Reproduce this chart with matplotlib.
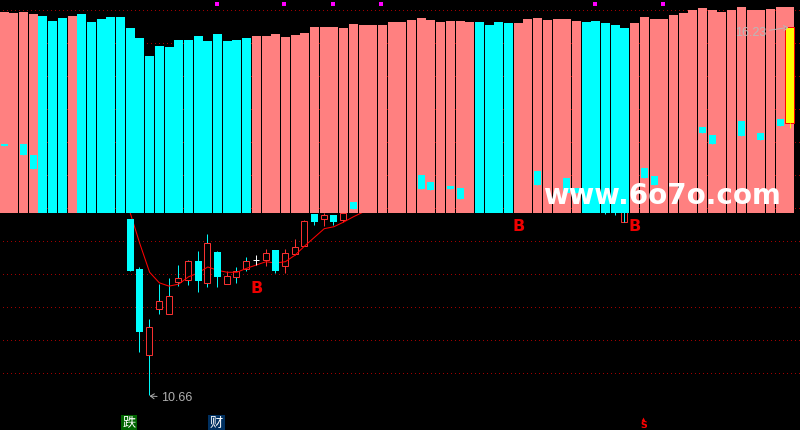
import matplotlib
matplotlib.use("Agg")
import matplotlib.pyplot as plt

plt.rcParams["lines.scale_dashes"] = False

CYAN = "#00ffff"
PINK = "#ff8080"
RED = "#ff3232"
LW = 0.7

# upper indicator, one value per bar
ind_values = [201, 200, 201, 199, 197, 192, 195, 197, 199, 191, 194, 196, 196, 185, 175, 157, 167, 166, 173, 173,
              177, 172, 179, 172, 173, 175, 177, 177, 179, 176, 178, 180, 186, 186, 186, 185, 189, 188, 188, 188,
              191, 191, 193, 195, 193, 191, 192, 192, 191, 191, 188, 191, 190, 190, 194, 195, 193, 194, 194, 192,
              191, 192, 190, 188, 185, 190, 196, 194, 194, 198, 200, 203, 205, 203, 201, 203, 206, 203, 203, 204,
              206, 206]
ind_up = [1, 1, 1, 1, 0, 0, 0, 1, 0, 0, 0, 0, 0, 0, 0, 0, 0, 0, 0, 0,
          0, 0, 0, 0, 0, 0, 1, 1, 1, 1, 1, 1, 1, 1, 1, 1, 1, 1, 1, 1,
          1, 1, 1, 1, 1, 1, 1, 1, 1, 0, 0, 0, 0, 1, 1, 1, 1, 1, 1, 1,
          0, 0, 0, 0, 0, 1, 1, 1, 1, 1, 1, 1, 1, 1, 1, 1, 1, 1, 1, 1,
          1, 1]

# red candles: index, open, close, high, low
up_idx = [15, 16, 17, 18, 19, 21, 23, 24, 25, 27, 29, 30, 31, 33, 35, 64]
up_open = [11.27, 11.96, 11.89, 12.37, 12.40, 12.36, 12.34, 12.45, 12.57, 12.71, 12.62, 12.80, 12.92, 13.33, 13.31, 13.28]
up_close = [11.69, 12.08, 12.16, 12.43, 12.69, 12.96, 12.46, 12.54, 12.69, 12.81, 12.81, 12.90, 13.30, 13.39, 13.42, 13.54]
up_high = [11.81, 12.34, 12.43, 12.63, 12.71, 13.10, 12.54, 12.60, 12.75, 12.87, 12.87, 13.02, 13.31, 13.42, 13.42, 13.54]
up_low = [10.66, 11.89, 11.89, 12.31, 12.33, 12.30, 12.34, 12.36, 12.54, 12.62, 12.51, 12.78, 12.92, 13.22, 13.28, 13.28]
up_wick = [CYAN, CYAN, CYAN, CYAN, CYAN, CYAN, RED, CYAN, CYAN, RED, RED, RED, RED, RED, RED, CYAN]

# cyan candles
down_idx = [0, 2, 3, 13, 14, 20, 22, 28, 32, 34, 36, 43, 44, 46, 47, 55, 58, 59, 62, 63, 66, 67, 72, 73, 76, 78, 80]
down_open = [14.46, 14.46, 14.30, 13.33, 12.57, 12.69, 12.83, 12.86, 13.40, 13.39, 13.58, 13.99, 13.89, 13.83, 13.80,
             14.05, 13.95, 13.80, 13.60, 13.60, 14.10, 13.98, 14.72, 14.60, 14.81, 14.63, 14.84]
down_close = [14.43, 14.30, 14.08, 12.54, 11.62, 12.39, 12.45, 12.54, 13.28, 13.28, 13.48, 13.78, 13.77, 13.78, 13.63,
              13.84, 13.72, 13.72, 13.50, 13.50, 13.95, 13.84, 14.63, 14.46, 14.58, 14.52, 14.74]
down_high = [14.46, 14.46, 14.30, 13.33, 12.60, 12.84, 12.84, 12.86, 13.40, 13.39, 13.58, 13.99, 13.89, 13.83, 13.80,
             14.05, 13.95, 13.80, 13.60, 13.60, 14.10, 13.98, 14.72, 14.60, 14.81, 14.63, 14.84]
down_low = [14.43, 14.30, 14.08, 12.54, 11.31, 12.22, 12.30, 12.51, 13.24, 13.24, 13.48, 13.78, 13.77, 13.78, 13.63,
            13.84, 13.72, 13.72, 13.40, 13.39, 13.95, 13.84, 14.63, 14.46, 14.58, 14.52, 14.74]

ma_idx = list(range(13, 38))
ma_values = [13.42, 12.95, 12.52, 12.36, 12.31, 12.34, 12.45, 12.51, 12.60, 12.55, 12.52, 12.52, 12.58,
             12.63, 12.68, 12.66, 12.68, 12.78, 12.92, 13.05, 13.18, 13.21, 13.28, 13.36, 13.43]

grid_prices = [16.5, 16.0, 15.5, 15.0, 14.5, 14.0, 13.5, 13.0, 12.5, 12.0, 11.5, 11.0]
signal_idx = [22, 29, 34, 39, 61, 68]
b_idx = [26, 53, 65]
b_prices = [12.27, 13.22, 13.22]

# 9.7px per bar
XLIM = (-4.11 / 9.7, 795.89 / 9.7)
YLIM = (10.13, 16.645)
SHIFT = 0.05  # stroked marks snap half a pixel to the right otherwise

fig = plt.figure(figsize=(8, 4.3), dpi=100, facecolor="black")


def new_layer(ylim):
    ax = fig.add_axes([0, 0, 1, 1], facecolor="none")
    ax.set_xlim(XLIM)
    ax.set_ylim(ylim)
    ax.set_xticks([])
    ax.set_yticks([])
    for s in ax.spines.values():
        s.set_visible(False)
    return ax


# bottom layer: grid, red candles, ma
ax = new_layer(YLIM)
ax.set_facecolor("black")
ax.set_yticks(grid_prices)
ax.tick_params(length=0, labelleft=False)
ax.grid(axis="y", color="#a00000", linewidth=LW, linestyle=(0.72, (0.72, 2.16)), antialiased=False)
ax.set_axisbelow(True)
up_x = [i - SHIFT for i in up_idx]
ax.vlines(up_x, up_low, up_high, colors=up_wick, linewidth=LW)
ax.bar(up_x, [c - o for o, c in zip(up_open, up_close)], bottom=up_open, width=6 / 9.7,
       facecolor="black", edgecolor=RED, linewidth=LW, zorder=3)
ax.vlines([64 - SHIFT], [13.28], [13.54], colors=CYAN, linewidth=LW, zorder=4)
ax.plot(ma_idx, ma_values, color="#ff0000", linewidth=0.75, zorder=5)

# indicator bars, baseline sits at y=213px
ax_ind = new_layer((-217, 213))
ind_colors = [PINK if u else CYAN for u in ind_up]
ax_ind.bar(range(len(ind_values)), ind_values, width=9 / 9.7, color=ind_colors, linewidth=0, antialiased=False)

# top layer: cyan candles, last candle and labels
ax_top = new_layer(YLIM)
ax_top.vlines([i - SHIFT for i in down_idx], down_low, down_high, colors=CYAN, linewidth=LW)
ax_top.bar(down_idx, [o - c for o, c in zip(down_open, down_close)], bottom=down_close, width=7 / 9.7,
           color=CYAN, linewidth=0)
ax_top.vlines([26 - SHIFT], [12.63], [12.78], colors="white", linewidth=LW)
ax_top.hlines([12.71], [25.65], [26.3], colors="white", linewidth=LW)

ax_top.vlines([80.97], [14.71], [14.78], colors="#ffff00", linewidth=LW)
ax_top.bar([80.97], [16.23 - 14.78], bottom=14.78, width=9 / 9.7, facecolor="#ffff00", edgecolor="#ff0000", linewidth=LW)

ax_top.scatter([i - 0.1 for i in signal_idx], [16.59] * len(signal_idx), marker="s", s=6, color="#ff00ff", linewidth=0)

for i, p in zip(b_idx, b_prices):
    ax_top.text(i, p, "B", color="#ee0000", fontsize=11.5, family="DejaVu Sans", weight="bold", ha="center", va="center")

arrow_10 = dict(arrowstyle="->,head_length=0.3,head_width=0.2", color="#b0b0b0", linewidth=LW, shrinkA=1, shrinkB=0)
ax_top.annotate("10.66", xy=(15, 10.645), xytext=(16.2, 10.62), color="#b0b0b0", fontsize=9, va="center",
                family="Liberation Sans", arrowprops=arrow_10)
arrow_16 = dict(arrowstyle="->,head_length=0.3,head_width=0.2", color="#b8b8b8", linewidth=LW, shrinkA=0, shrinkB=0)
ax_top.annotate("16.23", xy=(80.85, 16.23), xytext=(75.4, 16.145), color="#b8b8b8", fontsize=9, va="center",
                family="Liberation Sans", arrowprops=arrow_16)

ax_top.text(12.9, 10.235, "跌", color="white", fontsize=9.5, family="Noto Sans CJK SC", ha="center", va="center",
            bbox=dict(boxstyle="square,pad=0.12", facecolor="#006400", linewidth=0))
ax_top.text(21.9, 10.235, "财", color="white", fontsize=9.5, family="Noto Sans CJK SC", ha="center", va="center",
            bbox=dict(boxstyle="square,pad=0.12", facecolor="#003060", linewidth=0))
ax_top.scatter([65.9], [10.29], marker="^", s=8, color="#ff0000", linewidth=0)
ax_top.text(65.9, 10.2, "S", color="#ff0000", fontsize=6.8, family="DejaVu Sans", weight="bold", ha="center", va="center")

ax_top.text(67.8, 13.68, "www.6o7o.com", color="white", fontsize=20, family="DejaVu Sans", weight="bold",
            ha="center", va="center")

fig.savefig("out.png", dpi=100, facecolor="black")
